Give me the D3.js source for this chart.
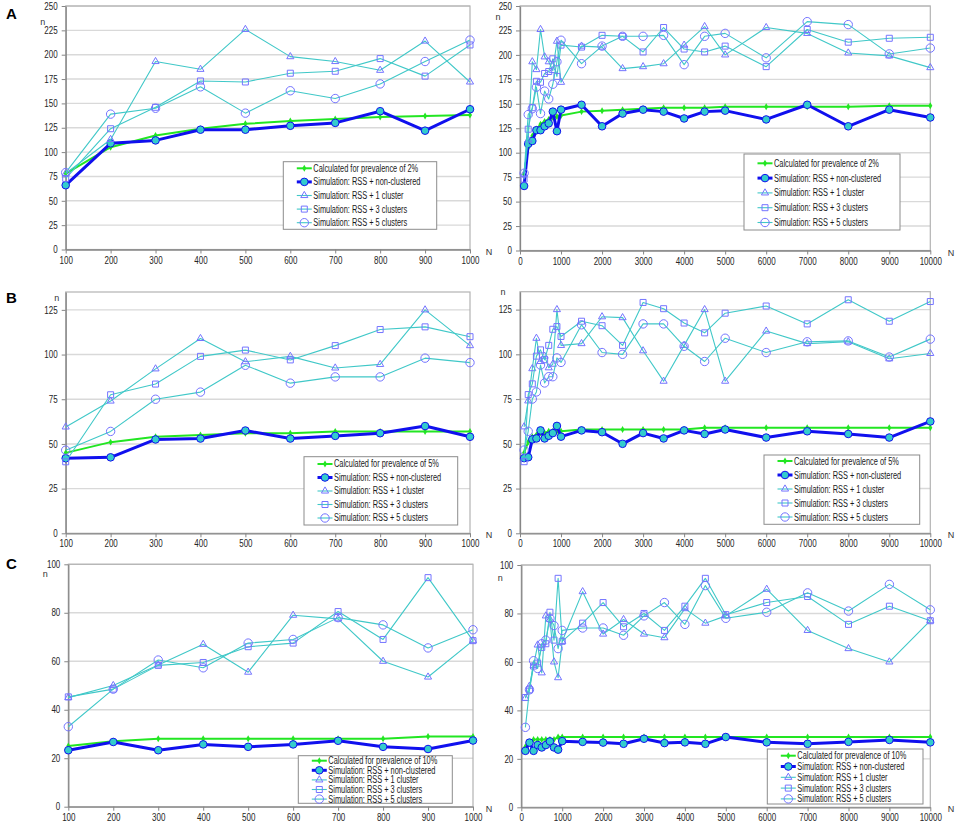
<!DOCTYPE html>
<html>
<head>
<meta charset="utf-8">
<script src="https://cdn.jsdelivr.net/npm/d3@7"></script>
<style>
  body { margin: 0; background: #fff; }
  svg { display: block; font-family: "Liberation Sans", Arial, sans-serif; }
</style>
</head>
<body>
<div id="chart"></div>
<script>
// sample sizes (N) on the x axes
const nSmall = [100, 200, 300, 400, 500, 600, 700, 800, 900, 1000];
const nLarge = [1500, 2000, 2500, 3000, 3500, 4000, 4500, 5000, 6000, 7000, 8000, 9000, 10000];
const nAll = nSmall.concat(nLarge);

const legendLabels = [
    "Calculated for prevalence of ",
    "Simulation: RSS + non-clustered",
    "Simulation: RSS + 1 cluster",
    "Simulation: RSS + 3 clusters",
    "Simulation: RSS + 5 clusters"
];
const prevalences = ["2%", "5%", "10%"];
const panelLetters = ["A", "B", "C"];

// y axis ticks per row
const yTicksA = [0, 25, 50, 75, 100, 125, 150, 175, 200, 225, 250];
const yTicksB = [0, 25, 50, 75, 100, 125];
const yTicksC = [0, 20, 40, 60, 80, 100];
const xTicksSmall = [100, 200, 300, 400, 500, 600, 700, 800, 900, 1000];
const xTicksLarge = [0, 1000, 2000, 3000, 4000, 5000, 6000, 7000, 8000, 9000, 10000];

// prevalence 2% (values for every N in nAll)
const calcA = [78, 105, 117, 124, 129, 132, 134, 136, 137, 138, 142, 143, 144, 145, 146, 146, 146, 147, 147, 147, 147, 148, 148];
const nonA = [66, 109, 112, 123, 123, 127, 130, 142, 122, 144, 149, 127, 140, 144, 142, 135, 142, 143, 134, 149, 127, 144, 136];
const c1A = [78, 113, 193, 185, 226, 198, 193, 184, 214, 172, 209, 208, 186, 188, 191, 210, 229, 200, 228, 222, 202, 199, 187];
const c3A = [73, 124, 146, 173, 172, 181, 183, 196, 178, 210, 208, 220, 219, 203, 228, 206, 203, 209, 188, 226, 213, 217, 218];
const c5A = [79, 139, 145, 167, 140, 163, 155, 170, 193, 215, 191, 209, 219, 219, 220, 190, 219, 222, 197, 234, 231, 201, 207];

// prevalence 5%
const calcB = [45, 51, 54, 55, 56, 56, 57, 57, 57, 57, 58, 58, 58, 58, 58, 58, 59, 59, 59, 59, 59, 59, 59];
const nonB = [42, 42.5, 52.5, 53, 57.5, 53, 54.5, 56, 60, 54, 57.5, 56.5, 50, 56, 53, 57.5, 55.5, 58, 53.5, 57, 55.5, 53.5, 62.5];
const c1B = [59.5, 74, 92, 109, 96, 99, 92.5, 94.5, 125, 105, 106, 121, 120.5, 102, 85, 105, 125, 85, 113, 106, 107, 97.5, 100.5];
const c3B = [40, 77.5, 83.5, 99, 102.5, 97, 105, 114, 115.5, 110, 118.5, 116, 105, 129, 125.5, 117.5, 112, 123, 127, 117, 130.5, 118.5, 129.5];
const c5B = [46.5, 57, 75, 79, 94, 84, 87.5, 87.5, 98, 95.5, 116.5, 101, 100, 117, 117, 104.5, 96, 109, 101, 107, 107.5, 98.5, 108.5];

// prevalence 10%
const calcC = [25, 27, 28, 28, 28, 28, 28, 28, 29, 29, 29, 29, 29, 29, 29, 29, 29, 29, 29, 29, 29, 29, 29];
const nonC = [23.3, 26.7, 23.3, 25.7, 24.7, 25.7, 27.2, 24.7, 23.8, 27.3, 27, 26.7, 26.2, 28.3, 26.5, 26.8, 26.2, 29, 26.8, 26.2, 27, 27.8, 26.8];
const c1C = [45, 50, 58.5, 67, 55.5, 79, 77.5, 60, 53.5, 68.5, 89, 71.5, 77.5, 71.5, 70, 82, 76, 79, 90, 73, 65.5, 60, 77];
const c3C = [45.3, 48.5, 58.3, 59.5, 66, 67.5, 80.5, 69, 94.5, 68.5, 76, 84.5, 74.5, 80, 73, 83, 94.5, 79.5, 84.5, 87, 75.5, 83, 77];
const c5C = [33, 48.5, 60.5, 57.3, 67.5, 69, 78, 75, 65.5, 73, 74, 74, 71, 79, 84.5, 75.5, 91.5, 78, 80.5, 88.5, 81, 92, 81.5];

const rows = [
    { series: [calcA, nonA, c1A, c3A, c5A], yMax: 250, yTicks: yTicksA },
    { series: [calcB, nonB, c1B, c3B, c5B], yMax: 135, yTicks: yTicksB },
    { series: [calcC, nonC, c1C, c3C, c5C], yMax: 100, yTicks: yTicksC }
];

// panel frames and legend boxes
const panels = [
    { row: 0, wide: false, left: 65.7, right: 470, top: 6, bottom: 249.5, nDx: -23, nDy: 16,
      legend: { x: 283.3, y: 161.7, w: 153.4, h: 67.6, first: 6.6, step: 13.6 } },
    { row: 0, wide: true, left: 520, right: 930.3, top: 6, bottom: 250.5, nDx: -22, nDy: 11,
      legend: { x: 744, y: 154, w: 156, h: 76, first: 9.3, step: 14.8 } },
    { row: 1, wide: false, left: 65.7, right: 470, top: 292, bottom: 533.3, nDx: -9, nDy: 6,
      legend: { x: 304, y: 456.7, w: 153.7, h: 68.3, first: 7.3, step: 13.5 } },
    { row: 1, wide: true, left: 520, right: 930.3, top: 291.7, bottom: 533.3, nDx: -17, nDy: 1,
      legend: { x: 764, y: 455, w: 155.7, h: 69.3, first: 6, step: 14 } },
    { row: 2, wide: false, left: 68.3, right: 473, top: 564.3, bottom: 806.7, nDx: -23, nDy: 10,
      legend: { x: 298.3, y: 755.7, w: 154, h: 47.6, first: 5, step: 9.6 } },
    { row: 2, wide: true, left: 521.3, right: 930.3, top: 565, bottom: 807.3, nDx: -21, nDy: 13,
      legend: { x: 767.3, y: 749, w: 155.7, h: 55, first: 6.7, step: 10.8 } }
];

const green = "#22e622";
const blue = "#1010ee";
const cyan = "#40c8c8";
const violet = "#7474ff";

const width = 957;
const height = 824;

const svg = d3.select("#chart")
    .append("svg")
    .attr("width", width)
    .attr("height", height)
    .attr("viewBox", [0, 0, width, height]);

svg.append("rect").attr("width", width).attr("height", height).attr("fill", "#fff");

// squeeze texts horizontally, the original uses a narrow font
function narrow(sel, f) {
    sel.each(function () {
        const len = this.getComputedTextLength();
        d3.select(this)
            .attr("textLength", len * f)
            .attr("lengthAdjust", "spacingAndGlyphs");
    });
}

// draws one marker of series k at (0,0) in the given group
function marker(sel, k) {
    if (k === 0) {
        sel.append("path")
            .attr("d", d3.symbol(d3.symbolDiamond, 14)())
            .attr("fill", green);
    } else if (k === 1) {
        sel.append("circle").attr("r", 3.8)
            .attr("fill", "#33cccc").attr("stroke", blue).attr("stroke-width", 1);
    } else if (k === 2) {
        sel.append("path")
            .attr("d", d3.symbol(d3.symbolTriangle, 22)())
            .attr("fill", "none").attr("stroke", violet).attr("stroke-width", 1);
    } else if (k === 3) {
        sel.append("path")
            .attr("d", d3.symbol(d3.symbolSquare, 36)())
            .attr("fill", "none").attr("stroke", violet).attr("stroke-width", 1);
    } else {
        sel.append("circle").attr("r", 4.2)
            .attr("fill", "none").attr("stroke", violet).attr("stroke-width", 1);
    }
}

const lineColor = [green, blue, cyan, cyan, cyan];
const lineWidth = [2, 3, 1.1, 1.1, 1.1];

function drawPanel(p) {
    const row = rows[p.row];
    const xs = p.wide ? nAll : nSmall;

    const x = d3.scaleLinear()
        .domain(p.wide ? [0, 10000] : [100, 1000])
        .range([p.left, p.right]);
    const y = d3.scaleLinear()
        .domain([0, row.yMax])
        .range([p.bottom, p.top]);

    const g = svg.append("g");

    // horizontal gridlines
    g.append("g")
        .selectAll("line")
        .data(row.yTicks.filter((d) => d > 0))
        .join("line")
        .attr("x1", p.left).attr("x2", p.right)
        .attr("y1", (d) => y(d)).attr("y2", (d) => y(d))
        .attr("stroke", "#d9d9d9")
        .attr("stroke-width", 1.4);

    // plot area border
    g.append("rect")
        .attr("x", p.left).attr("y", p.top)
        .attr("width", p.right - p.left).attr("height", p.bottom - p.top)
        .attr("fill", "none")
        .attr("stroke", "#b3b3b3")
        .attr("stroke-width", 1.2);

    // axes
    const yAxis = g.append("g")
        .attr("transform", `translate(${p.left},0)`)
        .call(d3.axisLeft(y).tickValues(row.yTicks).tickSize(4).tickSizeOuter(0).tickPadding(4));
    const xAxis = g.append("g")
        .attr("transform", `translate(0,${p.bottom})`)
        .call(d3.axisBottom(x).tickValues(p.wide ? xTicksLarge : xTicksSmall)
            .tickFormat(d3.format("d")).tickSize(4).tickSizeOuter(0).tickPadding(3));
    [yAxis, xAxis].forEach((a) => {
        a.select(".domain").attr("stroke", "#868686").attr("stroke-width", 1.3);
        a.selectAll(".tick line").attr("stroke", "#868686");
        a.selectAll(".tick text")
            .attr("fill", "#262626")
            .style("font-size", "10px")
            .style("font-family", "inherit")
            .call(narrow, 0.8);
    });

    // axis names
    g.append("text")
        .attr("x", p.left + p.nDx)
        .attr("y", p.top + p.nDy)
        .attr("text-anchor", "middle")
        .attr("dy", "0.3em")
        .style("font-size", "9px")
        .attr("fill", "#333")
        .text("n");
    g.append("text")
        .attr("x", p.wide ? 951 : 489)
        .attr("y", p.bottom + 5)
        .attr("text-anchor", "middle")
        .style("font-size", "9px")
        .attr("fill", "#333")
        .text("N");

    // series lines and markers
    const line = d3.line()
        .x((d) => x(d[0]))
        .y((d) => y(d[1]));

    row.series.forEach((vals, k) => {
        const pts = xs.map((n, i) => [n, vals[i]]);
        g.append("path")
            .datum(pts)
            .attr("fill", "none")
            .attr("stroke", lineColor[k])
            .attr("stroke-width", lineWidth[k])
            .attr("stroke-linejoin", "round")
            .attr("d", line);
        g.append("g")
            .selectAll("g")
            .data(pts)
            .join("g")
            .attr("transform", (d) => `translate(${x(d[0])},${y(d[1])})`)
            .each(function () { marker(d3.select(this), k); });
    });

    // legend
    const L = p.legend;
    const lg = g.append("g").attr("transform", `translate(${L.x},${L.y})`);
    lg.append("rect")
        .attr("width", L.w).attr("height", L.h)
        .attr("fill", "#fff")
        .attr("stroke", "#8c8c8c")
        .attr("stroke-width", 1);
    legendLabels.forEach((label, k) => {
        const ly = L.first + k * L.step;
        lg.append("line")
            .attr("x1", 13.5).attr("x2", 28.5)
            .attr("y1", ly).attr("y2", ly)
            .attr("stroke", lineColor[k])
            .attr("stroke-width", lineWidth[k]);
        marker(lg.append("g").attr("transform", `translate(21,${ly})`), k);
        lg.append("text")
            .attr("x", 30)
            .attr("y", ly)
            .attr("dy", "0.35em")
            .style("font-size", "10px")
            .attr("fill", "#1a1a1a")
            .text(k === 0 ? label + prevalences[p.row] : label)
            .call(narrow, 0.74);
    });
}

panels.forEach(drawPanel);

// panel letters
svg.append("g")
    .selectAll("text")
    .data(panelLetters)
    .join("text")
    .attr("x", 6)
    .attr("y", (d, i) => [18.5, 302.5, 568.5][i])
    .style("font-size", "15px")
    .style("font-weight", "bold")
    .text((d) => d);
</script>
</body>
</html>
